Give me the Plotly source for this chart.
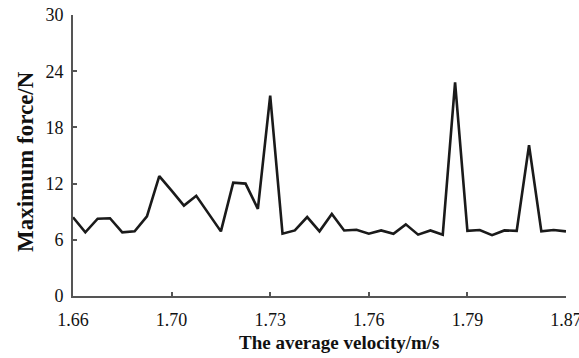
import plotly.graph_objects as go

force = [8.4, 6.8, 8.25, 8.3, 6.8, 6.9, 8.5, 12.8, 11.25, 9.65,
         10.7, 8.75, 6.9, 12.1, 12.0, 9.3, 21.4, 6.65, 7.0, 8.43,
         6.9, 8.75, 7.0, 7.07, 6.65, 7.0, 6.65, 7.65, 6.55, 7.0,
         6.55, 22.8, 6.95, 7.05, 6.5, 7.0, 6.95, 16.1, 6.9, 7.05, 6.9]
tick_pos = [0, 8, 16, 24, 32, 40]
tick_labels = ["1.66", "1.70", "1.73", "1.76", "1.79", "1.87"]
y_ticks = [0, 6, 12, 18, 24, 30]
x_title = "The average velocity/m/s"
y_title = "Maximum force/N"

x_idx = list(range(len(force)))

fig = go.Figure()
fig.add_trace(go.Scatter(x=x_idx, y=force, mode="lines",
                         line=dict(color="#1a1a1a", width=2.6),
                         showlegend=False, hoverinfo="skip"))

serif = "Liberation Serif"
fig.update_layout(
    width=579, height=358,
    margin=dict(l=73, r=13, t=15, b=62, autoexpand=False),
    plot_bgcolor="white", paper_bgcolor="white",
    font=dict(family=serif, size=18, color="#111"),
)
fig.update_xaxes(
    range=[0, 40], tickmode="array", tickvals=tick_pos, ticktext=tick_labels,
    showline=True, linecolor="#555", linewidth=2, automargin=False,
    ticks="inside", ticklen=4, tickcolor="#555", tickwidth=1.5,
    showgrid=False, zeroline=False, ticklabelstandoff=6,
    ticklabeloverflow="allow",
    tickfont=dict(family=serif, size=18, color="#111"),
)
fig.update_yaxes(
    range=[0, 30], tickmode="array", tickvals=y_ticks,
    showline=True, linecolor="#555", linewidth=2, automargin=False,
    ticks="inside", ticklen=4, tickcolor="#555", tickwidth=1.5,
    showgrid=False, zeroline=False, ticklabelstandoff=4,
    tickfont=dict(family=serif, size=18, color="#111"),
)
fig.add_annotation(text="<b>%s</b>" % x_title, xref="paper", yref="paper",
                   x=0.5406, y=-0.167, xanchor="center", yanchor="middle",
                   showarrow=False, font=dict(family=serif, size=19, color="#111"))
fig.add_annotation(text="<b>%s</b>" % y_title, xref="paper", yref="paper",
                   x=-0.0974, y=0.4804, xanchor="center", yanchor="middle",
                   textangle=-90, showarrow=False,
                   font=dict(family=serif, size=23, color="#111"))
fig.write_html("out.html")
